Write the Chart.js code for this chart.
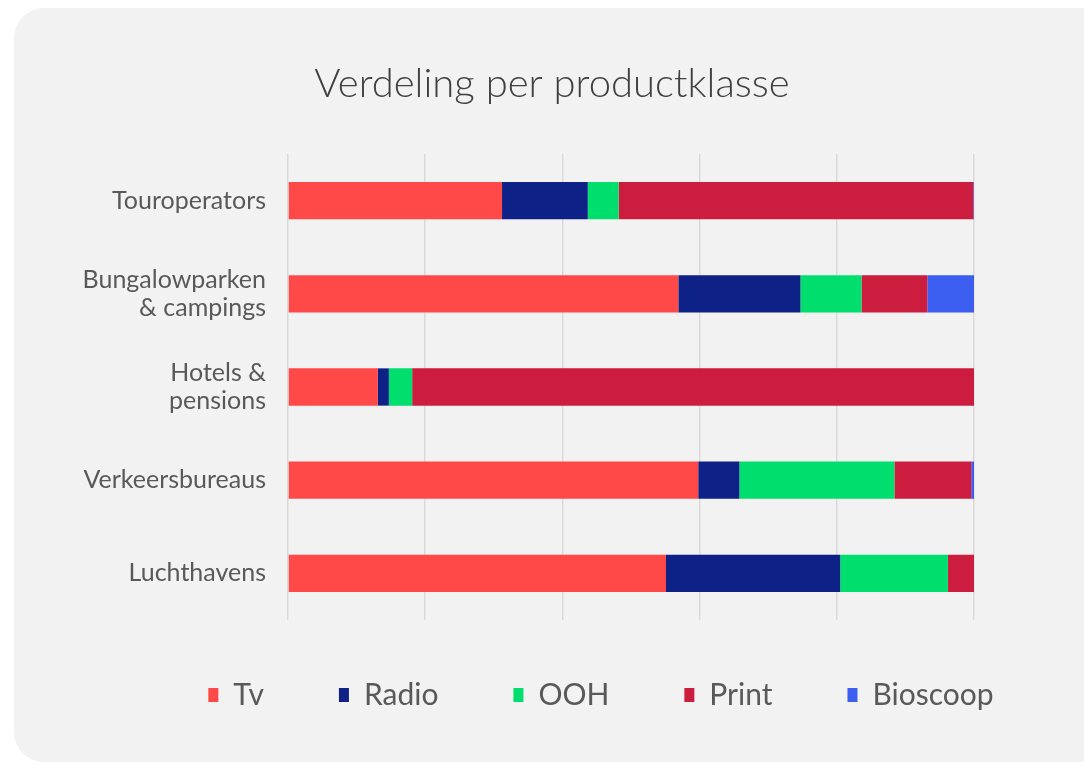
<!DOCTYPE html>
<html>
<head>
<meta charset="utf-8">
<script src="https://cdn.jsdelivr.net/npm/chart.js@4/dist/chart.umd.min.js"></script>
<style>
  html, body { margin: 0; padding: 0; background: #fff; overflow: hidden; }
  .card {
    position: absolute; left: 14px; top: 8px; width: 1100px; height: 754px;
    background: #f2f2f2; border-radius: 30px;
  }
  .wrap { position: absolute; left: 14px; top: 8px; width: 1076px; height: 754px; }
</style>
</head>
<body>
<div class="card"></div>
<div class="wrap"><canvas id="myChart"></canvas></div>
<script>
const categories = [
  "Touroperators",
  ["Bungalowparken", "& campings"],
  ["Hotels &", "pensions"],
  "Verkeersbureaus",
  "Luchthavens",
];

const tv = [31.2, 56.9, 13.1, 59.8, 55.1];
const radio = [12.5, 17.8, 1.6, 6.0, 25.4];
const ooh = [4.5, 8.9, 3.4, 22.6, 15.7];
const print = [51.7, 9.6, 81.9, 11.2, 3.8];
const bioscoop = [0.1, 6.8, 0, 0.4, 0];

const seriesNames = ["Tv", "Radio", "OOH", "Print", "Bioscoop"];
const colors = ["#ff4848", "#0d2187", "#00df6d", "#cd1d3f", "#3b5ef0"];
const values = [tv, radio, ooh, print, bioscoop];

const font = "Lato, 'Open Sans', sans-serif";

// titel en legenda op dezelfde plek als in het voorbeeld zetten
const shiftBlocks = {
  id: "shiftBlocks",
  afterLayout(chart) {
    const t = chart.titleBlock;
    t.left += 58;
    t.right += 58;
    const lg = chart.legend;
    lg.left += 107;
    lg.right += 107;
    lg.top -= 15;
    lg.bottom -= 15;
  },
};

const ctx = document.getElementById("myChart");

const chart = new Chart(ctx, {
  type: "bar",
  data: {
    labels: categories,
    datasets: seriesNames.map((name, i) => ({
      label: name,
      data: values[i],
      backgroundColor: colors[i],
      borderWidth: 0,
      categoryPercentage: 1,
      barPercentage: 0.4,
    })),
  },
  options: {
    indexAxis: "y",
    responsive: true,
    maintainAspectRatio: false,
    animation: false,
    layout: { padding: { left: 0, right: 116, top: 0, bottom: 27 } },
    scales: {
      x: {
        stacked: true,
        min: 0,
        max: 100,
        ticks: { display: false, stepSize: 20 },
        grid: { color: "#d9d9d9", lineWidth: 1.5, drawTicks: false },
        border: { display: false },
      },
      y: {
        stacked: true,
        afterFit(scale) {
          scale.width = 274;
        },
        ticks: {
          padding: 22,
          color: "#595959",
          font: { family: font, size: 25, lineHeight: 1.12 },
        },
        grid: { display: false, drawTicks: false },
        border: { display: false },
      },
    },
    plugins: {
      title: {
        display: true,
        text: "Verdeling per productklasse",
        color: "#404040",
        font: { family: font, size: 40, weight: 300 },
        padding: { top: 52, bottom: 46 },
      },
      legend: {
        position: "bottom",
        labels: {
          boxWidth: 10,
          boxHeight: 14,
          padding: 75,
          color: "#595959",
          font: { family: font, size: 30 },
        },
      },
      tooltip: { enabled: false },
    },
  },
  plugins: [shiftBlocks],
});
</script>
</body>
</html>
